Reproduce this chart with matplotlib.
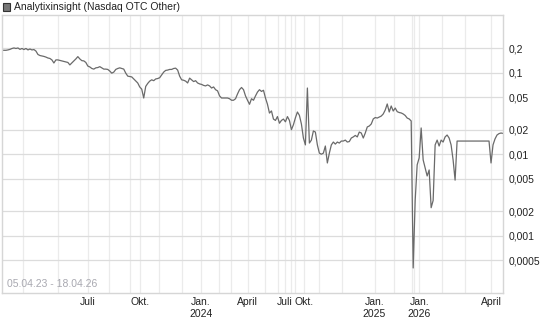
import numpy as np
import matplotlib
matplotlib.use("Agg")
import matplotlib.pyplot as plt
from matplotlib.patches import Rectangle

plt.rcParams['font.family'] = ['Liberation Sans', 'DejaVu Sans']

# Kurs (USD) je Handelspunkt, 05.04.23 - 18.04.26
prices = [
    0.189, 0.189, 0.189, 0.191, 0.194, 0.199, 0.202, 0.199, 0.202, 0.194,
    0.199, 0.193, 0.199, 0.191, 0.196, 0.191, 0.193, 0.185, 0.168, 0.163,
    0.161, 0.159, 0.156, 0.152, 0.150, 0.144, 0.132, 0.144, 0.144, 0.142,
    0.140, 0.138, 0.136, 0.134, 0.125, 0.132, 0.140, 0.148, 0.158, 0.148,
    0.141, 0.140, 0.134, 0.121, 0.118, 0.113, 0.111, 0.115, 0.116, 0.119,
    0.115, 0.111, 0.111, 0.110, 0.105, 0.099, 0.102, 0.110, 0.113, 0.115,
    0.113, 0.111, 0.099, 0.091, 0.090, 0.089, 0.084, 0.079, 0.075, 0.067,
    0.063, 0.049, 0.068, 0.074, 0.079, 0.082, 0.080, 0.084, 0.085, 0.087,
    0.094, 0.102, 0.107, 0.108, 0.110, 0.110, 0.113, 0.114, 0.108, 0.091,
    0.082, 0.081, 0.079, 0.075, 0.086, 0.082, 0.078, 0.080, 0.075, 0.073,
    0.072, 0.070, 0.069, 0.071, 0.069, 0.065, 0.067, 0.062, 0.060, 0.052,
    0.049, 0.049, 0.049, 0.049, 0.048, 0.046, 0.046, 0.048, 0.055, 0.062,
    0.066, 0.062, 0.052, 0.046, 0.041, 0.048, 0.046, 0.052, 0.058, 0.062,
    0.059, 0.061, 0.049, 0.041, 0.032, 0.034, 0.027, 0.026, 0.029, 0.024,
    0.026, 0.027, 0.025, 0.029, 0.026, 0.020, 0.023, 0.028, 0.033, 0.030,
    0.0235, 0.0158, 0.0130, 0.065, 0.0137, 0.0149, 0.0193, 0.0187, 0.0130, 0.0103,
    0.0100, 0.0103, 0.0126, 0.0078, 0.0103, 0.0130, 0.0141, 0.0133, 0.0141, 0.0137,
    0.0145, 0.0145, 0.0149, 0.0141, 0.0143, 0.0158, 0.0163, 0.0170, 0.0163, 0.0187,
    0.0182, 0.0158, 0.0182, 0.0216, 0.0222, 0.0235, 0.0271, 0.0282, 0.0278, 0.0286,
    0.0294, 0.0312, 0.0349, 0.0414, 0.0330, 0.0391, 0.0339, 0.0369, 0.0333, 0.0325,
    0.0321, 0.0312, 0.0299, 0.0278, 0.0271, 0.0256, 0.0004, 0.0027, 0.0074, 0.0090,
    0.0210, 0.0085, 0.0068, 0.0054, 0.0064, 0.0022, 0.0027, 0.0130, 0.0149, 0.0126,
    0.0149, 0.0141, 0.0163, 0.0172, 0.0158, 0.0130, 0.0085, 0.0048, 0.0145, 0.0145,
    0.0145, 0.0145, 0.0145, 0.0145, 0.0145, 0.0145, 0.0145, 0.0145, 0.0145, 0.0145,
    0.0145, 0.0145, 0.0145, 0.0145, 0.0145, 0.0078, 0.0130, 0.0154, 0.0172, 0.0179,
    0.0182, 0.0180,
]
print(len(prices))

# Monatsanfaenge als Position auf der Handelspunkt-Achse
month_pos = [10.35, 27.85, 43.15, 53.65, 64.35, 69.0, 78.65, 90.15, 99.65, 108.65,
             114.65, 123.15, 132.0, 138.35, 141.65, 145.0, 146.65, 151.15, 158.85,
             170.15, 186.65, 196.15, 205.65, 206.65, 209.15, 220.65, 232.15, 245.15]
label_pos = [43.15, 69.0, 99.65, 123.15, 141.65, 151.15, 186.65, 209.15, 245.15]
label_txt = ["Juli", "Okt.", "Jan.\n2024", "April", "Juli", "Okt.",
             "Jan.\n2025", "Jan.\n2026", "April"]

y_ticks = [0.0005, 0.001, 0.002, 0.005, 0.01, 0.02, 0.05, 0.1, 0.2]
y_labels = ["0,0005", "0,001", "0,002", "0,005", "0,01", "0,02", "0,05", "0,1", "0,2"]

W, H = 545, 327
fig = plt.figure(figsize=(W / 100, H / 100), dpi=100)
ax = fig.add_axes([2 / W, 1 - 293 / H, 501 / W, 278 / H])

x = np.arange(len(prices))
ax.plot(x, prices, color="#6a6a6a", lw=0.9)

ax.set_yscale("log")
ax.set_ylim(0.000197, 0.513)
ax.set_xlim(0, len(prices) - 1)

# Gitter
for p in month_pos:
    ax.axvline(p, color="#ebebeb", lw=0.9, zorder=0)
for t in y_ticks:
    ax.axhline(t, color="#dcdcdc", lw=0.9, zorder=0)

ax.yaxis.tick_right()
ax.set_yticks(y_ticks)
ax.set_yticklabels(y_labels)
ax.yaxis.set_minor_locator(matplotlib.ticker.NullLocator())
ax.set_xticks(label_pos)
ax.set_xticklabels(label_txt, linespacing=1.25)
ax.tick_params(axis="both", length=0, labelsize=7.5, colors="#222222")
ax.tick_params(axis="y", pad=4)
ax.tick_params(axis="x", pad=3)

for s in ax.spines.values():
    s.set_color("#d6d6d6")
    s.set_linewidth(1)

ax.text(5 / 501, 4 / 278, "05.04.23 - 18.04.26", transform=ax.transAxes,
        fontsize=7.5, color="#a8a8b0", ha="left", va="bottom")

# Titel mit Symbol
fig.patches.append(Rectangle((3 / W, 1 - 10.5 / H), 7 / W, 7 / H,
                             transform=fig.transFigure, facecolor="#777777",
                             edgecolor="#333333", lw=0.8))
fig.text(14.5 / W, 1 - 7 / H, "Analytixinsight (Nasdaq OTC Other)",
         fontsize=7.5, color="#222222", ha="left", va="center")

fig.savefig("out.png", dpi=100)
